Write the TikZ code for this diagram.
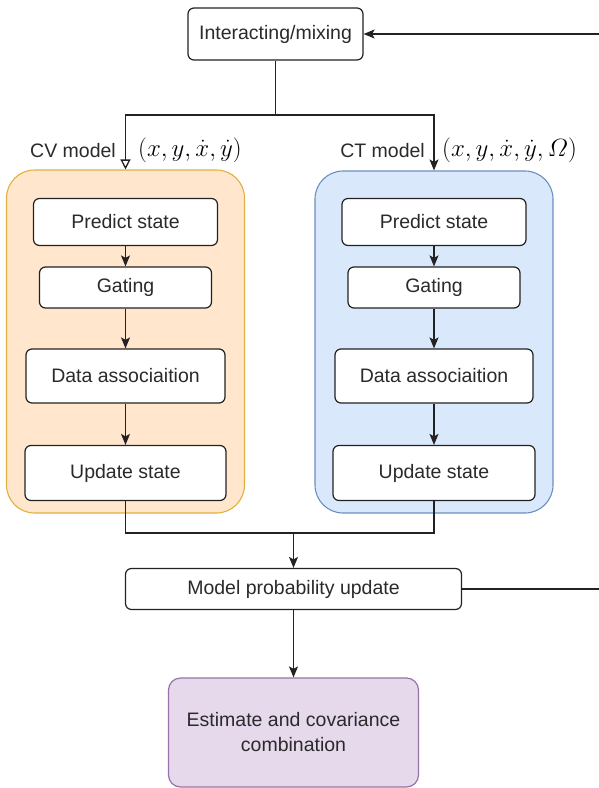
\documentclass[tikz,border=0pt]{standalone}
\usepackage{amsmath}
\usepackage[no-math]{fontspec}
\setmainfont{Liberation Sans}
\usetikzlibrary{arrows.meta}
\definecolor{txt}{HTML}{2A2A2A}
\definecolor{ln}{HTML}{222222}
\definecolor{orfill}{HTML}{FFE6CC}
\definecolor{orline}{HTML}{E0B040}
\definecolor{blfill}{HTML}{DAE8FC}
\definecolor{blline}{HTML}{6C8EBF}
\definecolor{pufill}{HTML}{E6D9EC}
\definecolor{puline}{HTML}{9673A6}
\newcommand{\bfs}{\fontsize{19.5}{25}\selectfont}
\newcommand{\mfs}{\fontsize{25}{30}\selectfont}
\begin{document}
\begin{tikzpicture}[x=1pt,y=-1pt,
  box/.style={draw=ln, fill=white, rounded corners=6pt, line width=1.2pt, text=txt, font=\bfs, inner sep=0pt, align=center},
  cont/.style={rounded corners=28pt, line width=1.1pt, inner sep=0pt},
  conn/.style={draw=ln, line width=1.3pt},
  arr/.style={conn, -{Stealth[length=11pt,width=9pt,inset=2.5pt]}},
  openarr/.style={conn, -{Triangle[open,length=10pt,width=10pt,fill=white]}},
  lab/.style={text=txt, font=\bfs, inner sep=0pt},
  mlab/.style={font=\mfs, inner sep=0pt}]
\useasboundingbox (0,0) rectangle (598,788);

% containers
\node[cont, draw=orline, fill=orfill, minimum width=238pt, minimum height=343pt] (lc) at (125.5,341.5) {};
\node[cont, draw=blline, fill=blfill, minimum width=238pt, minimum height=342pt] (rc) at (434,342) {};

% top
\node[box, minimum width=175pt, minimum height=52pt] (im) at (275.5,34) {Interacting/mixing};

% left column
\node[box, minimum width=184pt, minimum height=47pt] (lps) at (125.5,222) {Predict state};
\node[box, minimum width=172pt, minimum height=41pt] (lg) at (125.5,287.5) {Gating};
\node[box, minimum width=199pt, minimum height=54pt] (lda) at (125.5,376) {Data associaition};
\node[box, minimum width=201pt, minimum height=55pt] (lus) at (125.5,473) {Update state};

% right column
\node[box, minimum width=184pt, minimum height=47pt] (rps) at (434,222) {Predict state};
\node[box, minimum width=172pt, minimum height=41pt] (rg) at (434,287.5) {Gating};
\node[box, minimum width=198pt, minimum height=54pt] (rda) at (434,376) {Data associaition};
\node[box, minimum width=202pt, minimum height=55pt] (rus) at (434,473) {Update state};

% bottom
\node[box, minimum width=336pt, minimum height=41pt] (mpu) at (293.5,589) {Model probability update};
\node[box, fill=pufill, draw=puline, rounded corners=12pt, minimum width=250pt, minimum height=109pt] (est) at (293.5,732.5) {Estimate and covariance\\combination};

% labels
\node[lab, anchor=base east] (cvl) at (116,157) {CV model};
\node[mlab, anchor=west] (cvm) at (138,150) {$(x,y,\dot{x},\dot{y})$};
\node[lab, anchor=base east] (ctl) at (425,157) {CT model};
\node[mlab, anchor=west] (ctm) at (442,150) {$(x,y,\dot{x},\dot{y},\mathnormal{\Omega})$};

% connectors
\coordinate (split) at (275.5,115);
\coordinate (join) at (293.5,533);
\draw[conn] (im.south) -- (split);
\draw[openarr] (split) -| (lc.north);
\draw[arr] (split) -| (rc.north);

\draw[arr] (lps) -- (lg);
\draw[arr] (lg) -- (lda);
\draw[arr] (lda) -- (lus);
\draw[arr] (rps) -- (rg);
\draw[arr] (rg) -- (rda);
\draw[arr] (rda) -- (rus);

\draw[conn] (lus.south) |- (join) -| (rus.south);
\draw[arr] (join) -- (mpu.north);
\draw[arr] (mpu.south) -- (est.north);
\draw[arr] (mpu.east) -- (606,589) -- (606,34) -- (im.east);
\end{tikzpicture}
\end{document}
